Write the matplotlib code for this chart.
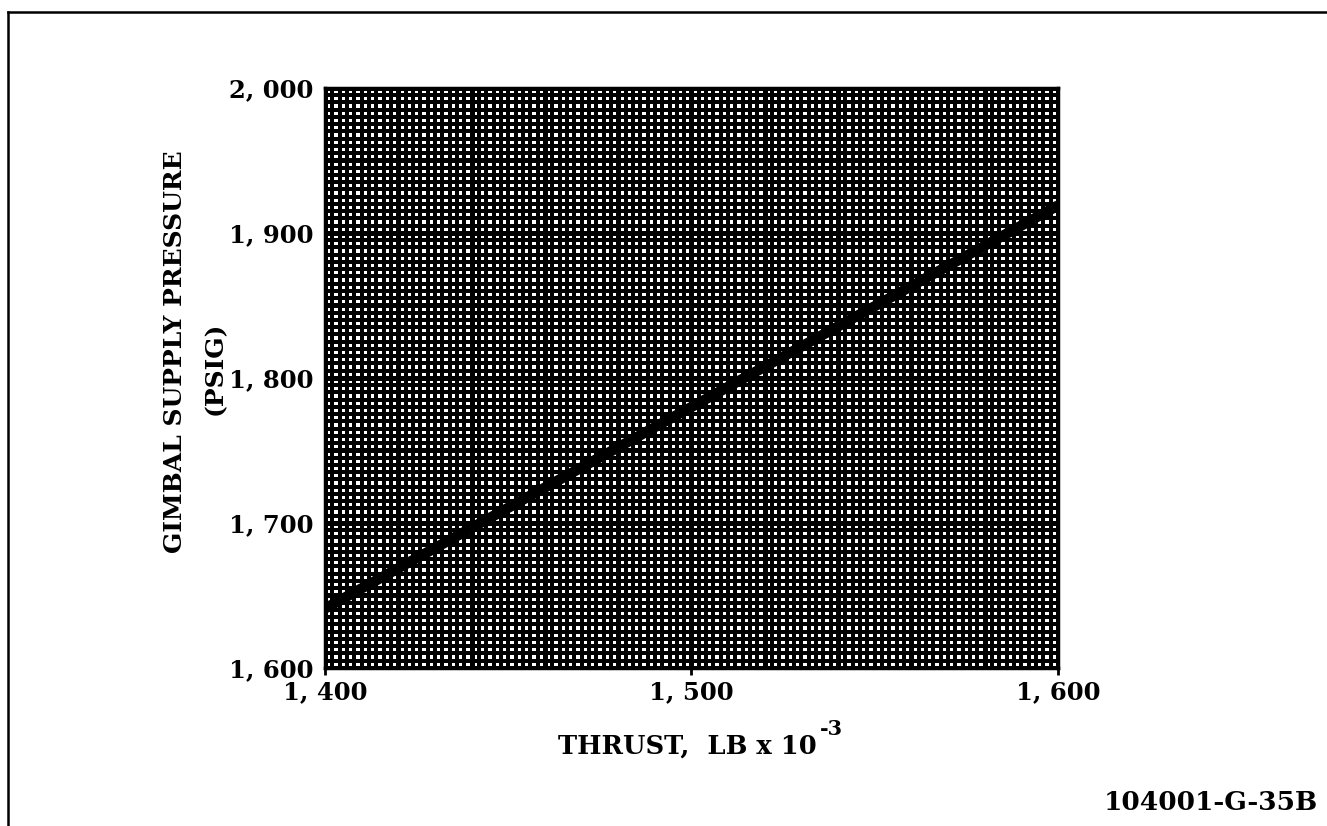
import numpy as np
import matplotlib
matplotlib.use("Agg")
import matplotlib.pyplot as plt
from matplotlib.lines import Line2D

# thrust (lb x 10^-3) vs gimbal supply pressure (psig)
thrust = [1400, 1500, 1600]
pressure = [1641, 1780, 1919]

x_ticks = [1400, 1500, 1600]
x_labels = ["1, 400", "1, 500", "1, 600"]
y_ticks = [1600, 1700, 1800, 1900, 2000]
y_labels = ["1, 600", "1, 700", "1, 800", "1, 900", "2, 000"]

FONT = "DejaVu Serif"

fig = plt.figure(figsize=(13.27, 8.26), dpi=100)
ax = fig.add_axes([0.2449, 0.1913, 0.5524, 0.7022])
ax.set_xlim(1400, 1600)
ax.set_ylim(1600, 2000)

# graph-paper grid: fine lines plus heavier major lines
for x in np.arange(1400, 1601, 2):
    lw = 2.4 if (x - 1400) % 20 == 0 else 1.6
    ax.axvline(x, color="black", lw=lw, zorder=1, antialiased=False)
for y in np.arange(1600, 2001, 5):
    lw = 2.4 if (y - 1600) % 50 == 0 else 1.6
    ax.axhline(y, color="black", lw=lw, zorder=1, antialiased=False)

ax.plot(thrust, pressure, color="black", lw=7.5, solid_capstyle="butt", zorder=3)

for s in ax.spines.values():
    s.set_linewidth(2.5)

ax.set_xticks(x_ticks)
ax.set_xticklabels(x_labels, fontfamily=FONT, fontweight="bold", fontsize=17.5)
ax.set_yticks(y_ticks)
ax.set_yticklabels(y_labels, fontfamily=FONT, fontweight="bold", fontsize=17.5)
ax.tick_params(axis="x", direction="out", length=5, width=2, pad=4)
ax.tick_params(axis="y", length=0, pad=8)

# axis titles
fig.text(0.132, 0.574, "GIMBAL SUPPLY PRESSURE", rotation=90, ha="center", va="center",
         fontfamily=FONT, fontweight="bold", fontsize=18)
fig.text(0.162, 0.554, "(PSIG)", rotation=90, ha="center", va="center",
         fontfamily=FONT, fontweight="bold", fontsize=18)
xl = fig.text(0.518, 0.097, "THRUST,  LB x 10", ha="center", va="center",
              fontfamily=FONT, fontweight="bold", fontsize=18.5)
ax.annotate("-3", xy=(1, 1), xycoords=xl, xytext=(2, -4), textcoords="offset points",
            ha="left", va="bottom", fontfamily=FONT, fontweight="bold", fontsize=15)

fig.text(0.993, 0.028, "104001-G-35B", ha="right", va="center",
         fontfamily=FONT, fontweight="bold", fontsize=19)

# page border along top and left
fig.add_artist(Line2D([0.006, 1.0], [0.985, 0.985], color="black", lw=1.8,
                      transform=fig.transFigure))
fig.add_artist(Line2D([0.006, 0.006], [0.0, 0.985], color="black", lw=1.8,
                      transform=fig.transFigure))

fig.savefig("out.png", dpi=100)
